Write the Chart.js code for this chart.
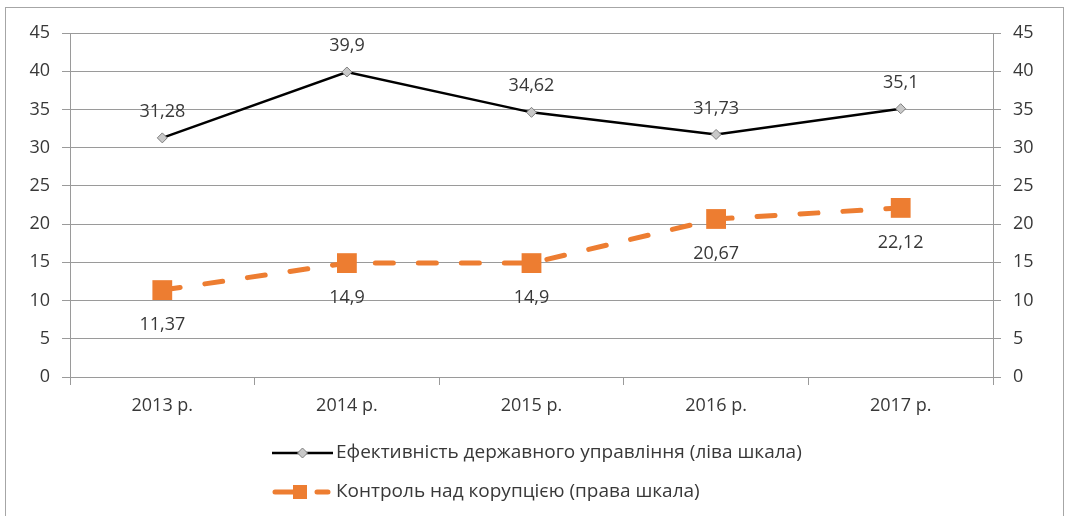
<!DOCTYPE html>
<html>
<head>
<meta charset="utf-8">
<script src="https://cdn.jsdelivr.net/npm/chart.js@4.4.1/dist/chart.umd.min.js"></script>
<style>
    html, body { margin: 0; padding: 0; background: #fff; }
    #wrap { width: 1065px; height: 516px; }
</style>
</head>
<body>
<div id="wrap"><canvas id="chart" width="1065" height="516"></canvas></div>
<script>
// Data
const years = ['2013 р.', '2014 р.', '2015 р.', '2016 р.', '2017 р.'];
const govEffectiveness = [31.28, 39.9, 34.62, 31.73, 35.1];
const corruptionControl = [11.37, 14.9, 14.9, 20.67, 22.12];
const seriesNames = [
    'Ефективність державного управління (ліва шкала)',
    'Контроль над корупцією (права шкала)'
];
const axisMin = 0;
const axisMax = 45;
const axisStep = 5;

const FONT = { family: '"Open Sans", sans-serif', size: 18 };
const LEGEND_SIZE = 19;
const TEXT = '#383838';
const GRID = '#9a9a9a';
const ORANGE = '#ED7D31';

const formatValue = (v) => String(v).replace('.', ',');

// outer frame of the chart
const framePlugin = {
    id: 'frame',
    beforeDraw(chart) {
        const ctx = chart.ctx;
        ctx.save();
        ctx.strokeStyle = '#a6a6a6';
        ctx.lineWidth = 1;
        ctx.strokeRect(5.5, 7.5, 1058, 540);
        ctx.restore();
    }
};

// value labels: above for the black line, below for the orange one
const valueLabels = {
    id: 'valueLabels',
    afterDatasetsDraw(chart) {
        const ctx = chart.ctx;
        ctx.save();
        ctx.font = `${FONT.size}px ${FONT.family}`;
        ctx.fillStyle = TEXT;
        ctx.textAlign = 'center';
        ctx.textBaseline = 'middle';
        chart.data.datasets.forEach((ds, i) => {
            const meta = chart.getDatasetMeta(i);
            const shift = i === 0 ? -26 : 35;
            meta.data.forEach((pt, j) => {
                ctx.fillText(formatValue(ds.data[j]), pt.x, pt.y + shift);
            });
        });
        ctx.restore();
    }
};

// legend drawn as two left-aligned rows
const customLegend = {
    id: 'customLegend',
    afterDraw(chart) {
        const ctx = chart.ctx;
        const x0 = 272, x1 = 333, textX = 336;
        const rows = [453, 492];
        ctx.save();

        // row 1: black line with a diamond
        let y = rows[0];
        ctx.strokeStyle = '#000';
        ctx.lineWidth = 2.5;
        ctx.beginPath();
        ctx.moveTo(x0, y);
        ctx.lineTo(x1, y);
        ctx.stroke();
        const cx = (x0 + x1) / 2;
        ctx.fillStyle = '#c8c8c8';
        ctx.strokeStyle = '#7f7f7f';
        ctx.lineWidth = 1;
        ctx.beginPath();
        ctx.moveTo(cx, y - 5);
        ctx.lineTo(cx + 5, y);
        ctx.lineTo(cx, y + 5);
        ctx.lineTo(cx - 5, y);
        ctx.closePath();
        ctx.fill();
        ctx.stroke();

        // row 2: orange dashes with a square
        y = rows[1];
        ctx.strokeStyle = ORANGE;
        ctx.lineWidth = 5;
        ctx.lineCap = 'round';
        ctx.beginPath();
        ctx.moveTo(x0 + 3, y);
        ctx.lineTo(x0 + 22, y);
        ctx.moveTo(x0 + 45, y);
        ctx.lineTo(x0 + 56, y);
        ctx.stroke();
        ctx.fillStyle = ORANGE;
        ctx.fillRect(x0 + 21, y - 7, 14, 14);

        ctx.font = `${LEGEND_SIZE}px ${FONT.family}`;
        ctx.fillStyle = TEXT;
        ctx.textAlign = 'left';
        ctx.textBaseline = 'middle';
        chart.data.datasets.forEach((ds, i) => {
            ctx.fillText(ds.label, textX, rows[i]);
        });
        ctx.restore();
    }
};

new Chart(document.getElementById('chart'), {
    type: 'line',
    data: {
        labels: years,
        datasets: [
            {
                label: seriesNames[0],
                data: govEffectiveness,
                yAxisID: 'y',
                borderColor: '#000',
                borderWidth: 2.5,
                pointStyle: 'rectRot',
                pointRadius: 5,
                pointBackgroundColor: '#c8c8c8',
                pointBorderColor: '#7f7f7f',
                pointBorderWidth: 1,
                tension: 0
            },
            {
                label: seriesNames[1],
                data: corruptionControl,
                yAxisID: 'y1',
                borderColor: ORANGE,
                borderWidth: 5,
                borderDash: [18, 25],
                borderCapStyle: 'round',
                pointStyle: 'rect',
                pointRadius: 14,
                pointBackgroundColor: ORANGE,
                pointBorderColor: ORANGE,
                pointBorderWidth: 0,
                tension: 0
            }
        ]
    },
    options: {
        responsive: false,
        animation: false,
        layout: { padding: { top: 33, left: 0, right: 0, bottom: 0 } },
        plugins: {
            legend: { display: false },
            tooltip: { enabled: false }
        },
        scales: {
            x: {
                offset: true,
                grid: { offset: true, drawOnChartArea: false, tickLength: 8, color: GRID },
                border: { color: GRID },
                ticks: { font: FONT, color: TEXT, padding: 10 },
                afterFit: (scale) => { scale.height = 139; }
            },
            y: {
                position: 'left',
                min: axisMin,
                max: axisMax,
                ticks: { stepSize: axisStep, font: FONT, color: TEXT, padding: 12 },
                grid: { color: GRID, tickLength: 8 },
                border: { color: GRID },
                afterFit: (scale) => { scale.width = 70; }
            },
            y1: {
                position: 'right',
                min: axisMin,
                max: axisMax,
                ticks: { stepSize: axisStep, font: FONT, color: TEXT, padding: 12 },
                grid: { drawOnChartArea: false, color: GRID, tickLength: 8 },
                border: { color: GRID },
                afterFit: (scale) => { scale.width = 72; }
            }
        }
    },
    plugins: [framePlugin, valueLabels, customLegend]
});
</script>
</body>
</html>
